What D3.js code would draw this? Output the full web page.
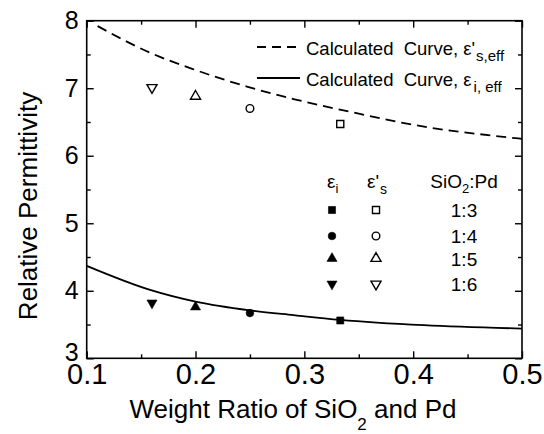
<!DOCTYPE html>
<html>
<head>
<meta charset="utf-8">
<script src="https://cdn.jsdelivr.net/npm/d3@7"></script>
<style>
  body { margin: 0; background: #fff; }
  svg { display: block; font-family: "Liberation Sans", Arial, sans-serif; }
  text { white-space: pre; fill: #000; }
</style>
</head>
<body>
<svg width="544" height="434"></svg>
<script>
// tick values
const xMajor = [0.1, 0.2, 0.3, 0.4, 0.5];
const xMinor = [0.15, 0.25, 0.35, 0.45];
const yMajor = [3, 4, 5, 6, 7, 8];
const yMinor = [3.5, 4.5, 5.5, 6.5, 7.5];

// measured points, one per SiO2:Pd ratio
const ratios = ["1:3", "1:4", "1:5", "1:6"];
const ratioX = [0.333, 0.25, 0.2, 0.16];
const epsI = [3.56, 3.67, 3.76, 3.82];
const epsS = [6.47, 6.70, 6.88, 7.01];

// calculated curves
const sCurveX = [0.11, 0.159, 0.2, 0.248, 0.29, 0.348, 0.41, 0.483, 0.5];
const sCurveY = [7.92, 7.52, 7.27, 7.02, 6.84, 6.63, 6.43, 6.28, 6.25];
const iCurveX = [0.1, 0.159, 0.2, 0.25, 0.29, 0.333, 0.41, 0.5];
const iCurveY = [4.37, 4.01, 3.84, 3.71, 3.64, 3.57, 3.49, 3.44];

const margin = {left: 86.7, right: 22, top: 20.7, bottom: 75.7};
const width = 544, height = 434;

const svg = d3.select("svg");
const x = d3.scaleLinear().domain([0.1, 0.5]).range([margin.left, width - margin.right]);
const y = d3.scaleLinear().domain([3, 8]).range([height - margin.bottom, margin.top]);

const symbols = [
  {type: d3.symbolSquare, size: 50, rot: 0},
  {type: d3.symbolCircle, size: 46, rot: 0},
  {type: d3.symbolTriangle, size: 44, rot: 0},
  {type: d3.symbolTriangle, size: 44, rot: 180}
];

// axes: ticks point inward on all four sides
function styleAxis(g) {
  g.select(".domain").remove();
  g.selectAll(".tick line").attr("stroke", "#000").attr("stroke-width", 1.4);
  g.selectAll("text").attr("fill", "#000");
}

svg.append("g")
  .attr("transform", `translate(0,${y(3)})`)
  .call(d3.axisBottom(x).tickValues(xMajor).tickSizeInner(-7).tickSizeOuter(0).tickPadding(5)
    .tickFormat(d3.format(".1f")))
  .call(styleAxis)
  .selectAll("text").attr("font-size", 29).attr("dy", "0.72em");

svg.append("g")
  .attr("transform", `translate(0,${y(3)})`)
  .call(d3.axisBottom(x).tickValues(xMinor).tickSizeInner(-4).tickSizeOuter(0).tickFormat(""))
  .call(styleAxis);

svg.append("g")
  .attr("transform", `translate(0,${y(8)})`)
  .call(d3.axisTop(x).tickValues(xMajor).tickSizeInner(-7).tickSizeOuter(0).tickFormat(""))
  .call(styleAxis);

svg.append("g")
  .attr("transform", `translate(0,${y(8)})`)
  .call(d3.axisTop(x).tickValues(xMinor).tickSizeInner(-4).tickSizeOuter(0).tickFormat(""))
  .call(styleAxis);

svg.append("g")
  .attr("transform", `translate(${x(0.1)},0)`)
  .call(d3.axisLeft(y).tickValues(yMajor).tickSizeInner(-7).tickSizeOuter(0).tickPadding(8)
    .tickFormat(d3.format("d")))
  .call(styleAxis)
  .selectAll("text").attr("font-size", 25)
  .attr("dy", d => d === 3 ? "0.1em" : "0.32em");

svg.append("g")
  .attr("transform", `translate(${x(0.1)},0)`)
  .call(d3.axisLeft(y).tickValues(yMinor).tickSizeInner(-4).tickSizeOuter(0).tickFormat(""))
  .call(styleAxis);

svg.append("g")
  .attr("transform", `translate(${x(0.5)},0)`)
  .call(d3.axisRight(y).tickValues(yMajor).tickSizeInner(-7).tickSizeOuter(0).tickFormat(""))
  .call(styleAxis);

svg.append("g")
  .attr("transform", `translate(${x(0.5)},0)`)
  .call(d3.axisRight(y).tickValues(yMinor).tickSizeInner(-4).tickSizeOuter(0).tickFormat(""))
  .call(styleAxis);

// frame
svg.append("rect")
  .attr("x", x(0.1)).attr("y", y(8))
  .attr("width", x(0.5) - x(0.1)).attr("height", y(3) - y(8))
  .attr("fill", "none").attr("stroke", "#000").attr("stroke-width", 1.6);

// curves
const line = d3.line().curve(d3.curveMonotoneX).x(d => x(d[0])).y(d => y(d[1]));

svg.append("path")
  .datum(d3.zip(sCurveX, sCurveY))
  .attr("d", line)
  .attr("fill", "none").attr("stroke", "#000").attr("stroke-width", 1.8)
  .attr("stroke-dasharray", "10,6");

svg.append("path")
  .datum(d3.zip(iCurveX, iCurveY))
  .attr("d", line)
  .attr("fill", "none").attr("stroke", "#000").attr("stroke-width", 1.8);

// markers
function marker(g, i, cx, cy, filled) {
  const s = symbols[i];
  g.append("path")
    .attr("d", d3.symbol().type(s.type).size(s.size)())
    .attr("transform", `translate(${cx},${cy}) rotate(${s.rot})`)
    .attr("fill", filled ? "#000" : "#fff")
    .attr("stroke", "#000")
    .attr("stroke-width", filled ? 0.6 : 1.4);
}

const pts = svg.append("g");
ratios.forEach((r, i) => {
  marker(pts, i, x(ratioX[i]), y(epsS[i]), false);
  marker(pts, i, x(ratioX[i]), y(epsI[i]), true);
});

// legend for the curves
const leg = svg.append("g").attr("font-size", 18.5);
leg.append("line").attr("x1", 257).attr("x2", 300).attr("y1", 47).attr("y2", 47)
  .attr("stroke", "#000").attr("stroke-width", 1.8).attr("stroke-dasharray", "9,6");
leg.append("line").attr("x1", 257).attr("x2", 300).attr("y1", 78).attr("y2", 78)
  .attr("stroke", "#000").attr("stroke-width", 1.8);

const t1 = leg.append("text").attr("x", 306).attr("y", 55);
t1.append("tspan").text("Calculated  Curve, ε'");
t1.append("tspan").attr("font-size", 15).attr("dy", 6).attr("dx", 1).text("s,eff");

const t2 = leg.append("text").attr("x", 306).attr("y", 86);
t2.append("tspan").text("Calculated  Curve, ε");
t2.append("tspan").attr("font-size", 15).attr("dy", 6).attr("dx", 2).text("i, eff");

// legend for the markers
const colI = 332, colS = 376, colR = 464;
const rowY = [210, 236, 258.5, 284];
const box = svg.append("g").attr("font-size", 19);

const h1 = box.append("text").attr("x", colI - 5).attr("y", 188);
h1.append("tspan").text("ε");
h1.append("tspan").attr("font-size", 13).attr("dy", 5).text("i");

const h2 = box.append("text").attr("x", colS - 9).attr("y", 188);
h2.append("tspan").text("ε'");
h2.append("tspan").attr("font-size", 14).attr("dy", 6).attr("dx", 1).text("s");

const h3 = box.append("text").attr("x", colR).attr("y", 188).attr("text-anchor", "middle");
h3.append("tspan").text("SiO");
h3.append("tspan").attr("font-size", 13).attr("dy", 5).text("2");
h3.append("tspan").attr("dy", -5).text(":Pd");

ratios.forEach((r, i) => {
  marker(box, i, colI, rowY[i], true);
  marker(box, i, colS, rowY[i], false);
  box.append("text").attr("x", colR).attr("y", rowY[i] + 7)
    .attr("text-anchor", "middle").text(r);
});

// axis titles
const xt = svg.append("text").attr("x", 293).attr("y", 418)
  .attr("text-anchor", "middle").attr("font-size", 26);
xt.append("tspan").text("Weight Ratio of SiO");
xt.append("tspan").attr("font-size", 17).attr("dy", 12).text("2");
xt.append("tspan").attr("dy", -12).text(" and Pd");

svg.append("text")
  .attr("transform", "translate(37,206) rotate(-90)")
  .attr("text-anchor", "middle").attr("font-size", 26)
  .text("Relative Permittivity");
</script>
</body>
</html>
